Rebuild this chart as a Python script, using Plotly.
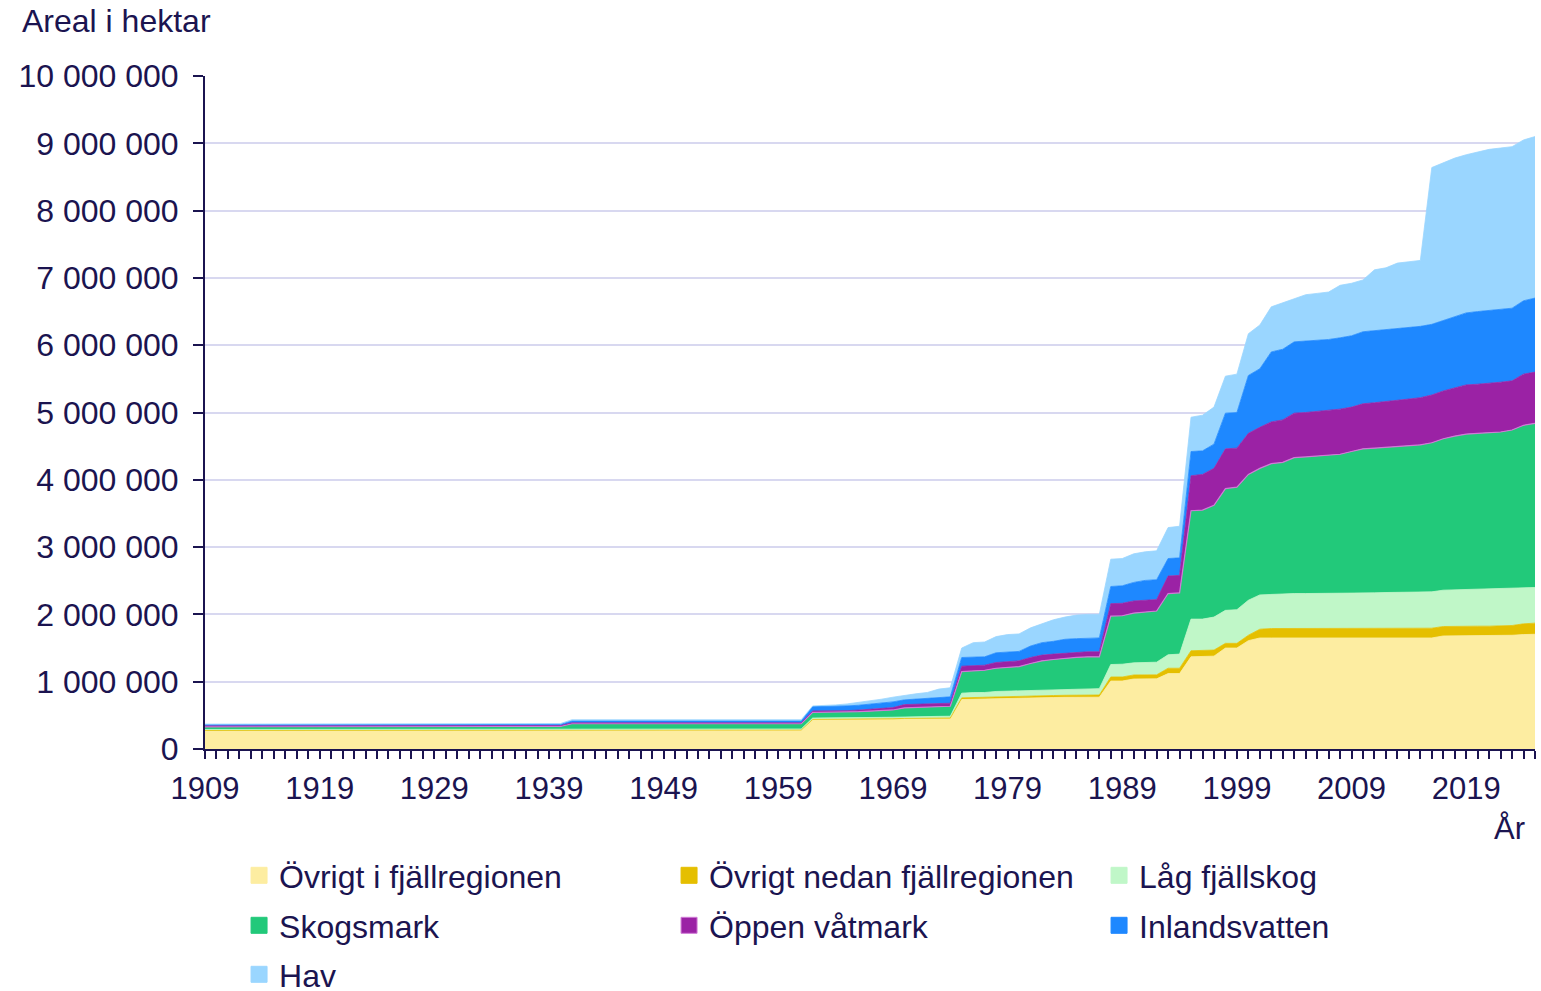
import plotly.graph_objects as go

years = list(range(1909, 2026))

# Values in thousand hectares, per series (stacked bottom -> top)
ovrigt_fjall = [
    270, 270, 270, 270, 270, 270, 270, 270, 270, 270,
    272, 272, 272, 272, 272, 272, 272, 272, 272, 272, 272, 272, 272, 272, 272, 272, 272, 272, 272, 272, 272, 272,
    278, 278, 278, 278, 278, 278, 278, 278, 278, 278, 278, 278, 278, 278, 278, 278, 278, 278, 278, 278, 278,
    430, 430, 432, 432, 435, 437, 438, 440, 445, 445, 448, 450, 450,
    735, 740, 742, 750, 755, 758, 760, 762, 765, 768, 770, 770, 770,
    1010, 1010, 1040, 1040, 1042, 1120, 1120,
    1370, 1375, 1380, 1500, 1500, 1610, 1650, 1650, 1650, 1650, 1650, 1650, 1650, 1650, 1650, 1650, 1650, 1650, 1650, 1650, 1650, 1650,
    1680, 1680, 1680, 1680, 1680, 1685, 1690, 1700, 1705,
]
ovrigt_nedan = [
    5, 5, 5, 5, 5, 5, 5, 5, 5, 5,
    5, 5, 5, 5, 5, 5, 5, 5, 5, 5, 5, 5, 5, 5, 5, 5, 5, 5, 5, 5, 5, 5,
    5, 5, 5, 5, 5, 5, 5, 5, 5, 5, 5, 5, 5, 5, 5, 5, 5, 5, 5, 5, 5,
    10, 10, 10, 10, 10, 10, 10, 10, 10, 10, 10, 10, 10,
    25, 25, 26, 30, 28, 27, 28, 28, 30, 30, 30, 32, 32,
    60, 60, 60, 60, 60, 80, 80,
    90, 85, 90, 70, 70, 80, 130, 140, 140, 140, 140, 140, 140, 140, 140, 140, 140, 140, 140, 140, 140, 145,
    140, 145, 145, 145, 145, 145, 145, 160, 165,
]
lag_fjallskog = [
    15, 15, 15, 15, 15, 15, 15, 15, 15, 15,
    15, 15, 15, 15, 15, 15, 15, 15, 15, 15, 15, 15, 15, 15, 15, 15, 15, 15, 15, 15, 15, 15,
    15, 15, 15, 15, 15, 15, 15, 15, 15, 15, 15, 15, 15, 15, 15, 15, 15, 15, 15, 15, 15,
    20, 20, 20, 20, 20, 21, 22, 22, 23, 25, 25, 25, 27,
    70, 73, 72, 75, 77, 80, 82, 90, 90, 90, 90, 93, 95,
    185, 190, 180, 185, 188, 200, 210,
    470, 470, 490, 490, 500, 520, 510, 510, 510, 520, 520, 520, 525, 525, 530, 530, 530, 535, 535, 540, 540, 540,
    540, 540, 540, 545, 545, 545, 545, 530, 530,
]
skogsmark = [
    40, 40, 40, 40, 40, 40, 40, 40, 40, 40,
    43, 43, 43, 43, 43, 43, 43, 43, 43, 43, 43, 43, 43, 43, 43, 43, 43, 43, 43, 43, 43, 43,
    77, 77, 77, 77, 77, 77, 77, 77, 77, 77, 77, 77, 77, 77, 77, 77, 77, 77, 77, 77, 77,
    85, 85, 86, 88, 90, 94, 100, 108, 132, 135, 137, 145, 148,
    320, 322, 330, 345, 355, 360, 400, 430, 445, 462, 470, 475, 473,
    720, 720, 740, 750, 760, 910, 910,
    1610, 1620, 1660, 1810, 1820, 1870, 1880, 1940, 1960, 2020, 2030, 2040, 2045, 2065, 2100, 2140, 2150, 2155, 2165, 2175, 2190, 2215,
    2250, 2285, 2315, 2320, 2330, 2335, 2360, 2420, 2440,
]
oppen_vatmark = [
    15, 15, 15, 15, 15, 15, 15, 15, 15, 15,
    15, 15, 15, 15, 15, 15, 15, 15, 15, 15, 15, 15, 15, 15, 15, 15, 15, 15, 15, 15, 15, 15,
    15, 15, 15, 15, 15, 15, 15, 15, 15, 15, 15, 15, 15, 15, 15, 15, 15, 15, 15, 15, 15,
    20, 20, 20, 20, 23, 28, 30, 35, 50, 50, 50, 45, 45,
    80, 80, 75, 85, 85, 85, 90, 85, 80, 75, 75, 75, 75,
    185, 185, 180, 175, 170, 260, 260,
    520, 530, 550, 590, 580, 610, 610, 620, 630, 660, 660, 665, 670, 670, 660, 670, 675, 680, 690, 695, 700, 710,
    710, 720, 730, 730, 730, 740, 730, 760, 760,
]
inlandsvatten = [
    15, 15, 15, 15, 15, 15, 15, 15, 15, 15,
    15, 15, 15, 15, 15, 15, 15, 15, 15, 15, 15, 15, 15, 15, 15, 15, 15, 15, 15, 15, 15, 15,
    25, 25, 25, 25, 25, 25, 25, 25, 25, 25, 25, 25, 25, 25, 25, 25, 25, 25, 25, 25, 25,
    65, 67, 67, 70, 72, 75, 80, 85, 70, 75, 80, 90, 95,
    130, 125, 125, 145, 140, 140, 170, 185, 190, 205, 205, 200, 205,
    255, 260, 275, 295, 295, 260, 260,
    360, 350, 360, 530, 530, 860, 870, 1040, 1050, 1060, 1060, 1055, 1055, 1060, 1060, 1070, 1070, 1075, 1070, 1065, 1060, 1050,
    1050, 1060, 1070, 1080, 1090, 1080, 1080, 1090, 1100,
]
hav = [
    10, 10, 10, 10, 10, 10, 10, 10, 10, 10,
    13, 13, 13, 13, 13, 13, 13, 13, 13, 13, 13, 13, 13, 13, 13, 13, 13, 13, 13, 13, 13, 13,
    20, 20, 20, 20, 20, 20, 20, 20, 20, 20, 20, 20, 20, 20, 20, 20, 20, 20, 20, 20, 20,
    10, 13, 20, 30, 40, 55, 60, 70, 70, 80, 90, 125, 135,
    140, 215, 220, 240, 260, 260, 270, 280, 320, 330, 350, 355, 350,
    405, 405, 425, 425, 430, 460, 470,
    510, 530, 550, 550, 570, 620, 650, 670, 690, 650, 690, 700, 705, 780, 780, 770, 905, 915, 970, 975, 980, 2330,
    2340, 2350, 2350, 2370, 2390, 2400, 2400, 2390, 2400,
]

series_names = [
    "Övrigt i fjällregionen", "Övrigt nedan fjällregionen", "Låg fjällskog",
    "Skogsmark", "Öppen våtmark", "Inlandsvatten", "Hav",
]
series_values = [ovrigt_fjall, ovrigt_nedan, lag_fjallskog, skogsmark,
                 oppen_vatmark, inlandsvatten, hav]
series_colors = ["#FDEDA1", "#E5BF00", "#C0F7C8", "#22C97A",
                 "#9B22A5", "#1E88FF", "#9AD6FF"]
legend_ids = ["legend", "legend", "legend", "legend2", "legend2", "legend2", "legend3"]

x_tick_labels = [str(y) for y in range(1909, 2020, 10)]

TXT = "#1B1450"
FONT = "Liberation Sans, Arial, sans-serif"

fig = go.Figure()
for name, vals, col in zip(series_names, series_values, series_colors):
    line_col = col
    line_w = 0.8
    if name == "Skogsmark":
        line_col = "#D07AD6"
        line_w = 1.2
    fig.add_trace(go.Scatter(
        x=years, y=[v * 1000 for v in vals], name=name,
        mode="lines", stackgroup="one",
        line=dict(color=line_col, width=line_w),
        fillcolor=col, showlegend=False, hoverinfo="x+y+name",
    ))

for name, col, lg in zip(series_names, series_colors, legend_ids):
    fig.add_trace(go.Scatter(
        x=[None], y=[None], name=name, mode="markers",
        marker=dict(symbol="square", size=16, color=col,
                    line=dict(width=1, color="#D07AD6" if name == "Öppen våtmark" else col)),
        legend=lg, showlegend=True,
    ))

legend_common = dict(
    orientation="h", x=0.0256, xanchor="left", yref="container", yanchor="top",
    traceorder="normal",
    font=dict(family=FONT, size=32, color=TXT), entrywidth=385, entrywidthmode="pixels",
    bgcolor="rgba(0,0,0,0)", itemclick=False, itemdoubleclick=False,
)

fig.update_layout(
    template="none",
    width=1541, height=991,
    margin=dict(l=205, r=6, t=76, b=242, autoexpand=False),
    paper_bgcolor="white", plot_bgcolor="white",
    separators=", ",
    font=dict(family=FONT, size=31, color=TXT),
    title=dict(text="Areal i hektar", xref="container", x=22 / 1541, xanchor="left",
               y=1 - 21 / 991, yanchor="middle", font=dict(family=FONT, size=32, color=TXT)),
    xaxis=dict(
        range=[1909, 2025], tickmode="array",
        tickvals=[int(t) for t in x_tick_labels], ticktext=x_tick_labels,
        ticks="outside", ticklen=8, tickwidth=2, tickcolor=TXT, ticklabelstandoff=3,
        minor=dict(dtick=1, tick0=1909, ticks="outside", ticklen=8, tickwidth=2, tickcolor=TXT, showgrid=False),
        showline=True, linecolor=TXT, linewidth=2, showgrid=False, zeroline=False,
        tickfont=dict(family=FONT, size=31, color=TXT), automargin=False,
    ),
    yaxis=dict(
        range=[0, 10000000], dtick=1000000, tick0=0, tickformat=",d",
        ticks="outside", ticklen=10, tickwidth=2, tickcolor=TXT, ticklabelstandoff=8,
        showline=True, linecolor=TXT, linewidth=2,
        showgrid=True, gridcolor="#D8D8F0", gridwidth=2, zeroline=False,
        tickfont=dict(family=FONT, size=32, color=TXT), automargin=False,
    ),
    legend=dict(legend_common, y=1 - 848 / 991),
    legend2=dict(legend_common, y=1 - 898 / 991),
    legend3=dict(legend_common, y=1 - 947 / 991),
    annotations=[dict(text="År", xref="paper", yref="paper", x=0.994, xanchor="right",
                      y=(749 - 828) / 673, yanchor="middle", showarrow=False,
                      font=dict(family=FONT, size=31, color=TXT))],
)

fig.write_html("out.html", include_plotlyjs=True, full_html=True,
               config={"displayModeBar": False},
               post_script="document.body.style.margin='0';document.body.style.overflow='hidden';")
